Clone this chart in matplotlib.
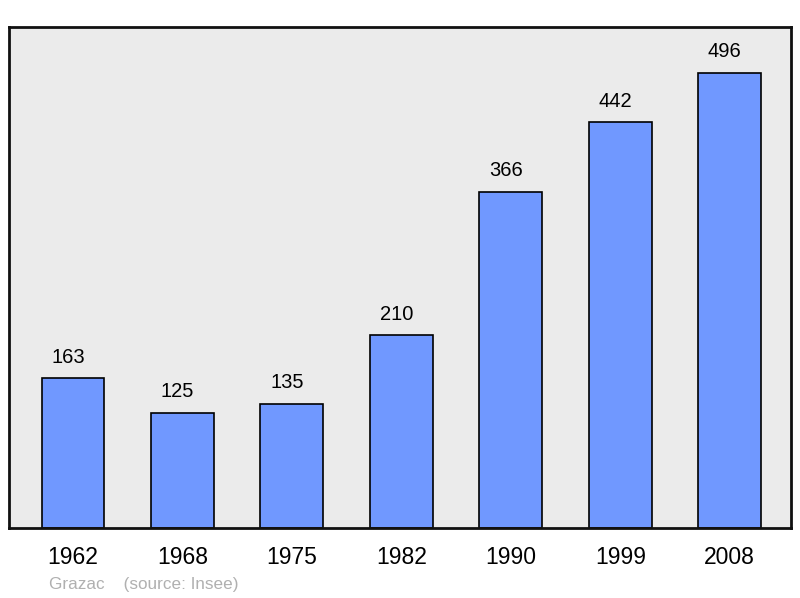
import matplotlib
matplotlib.use("Agg")
import matplotlib.pyplot as plt
import numpy as np

years = ["1962", "1968", "1975", "1982", "1990", "1999", "2008"]
population = [163, 125, 135, 210, 366, 442, 496]
commune = "Grazac"
source = "(source: Insee)"

plt.rcParams['font.family'] = ['Liberation Sans', 'DejaVu Sans']

fig = plt.figure(figsize=(8.0, 5.98), dpi=100)
ax = fig.add_axes([9 / 800, 1 - 528 / 598, 782 / 800, 501 / 598])
ax.set_facecolor('#ebebeb')

x = np.arange(len(years))
ax.bar(x, population, width=0.575, color='#7098ff', edgecolor='black',
       linewidth=1.2, zorder=2)

for xi, val in zip(x, population):
    ax.annotate(str(val), (xi, val), xytext=(-3.5, 8.5), textcoords='offset points',
                ha='center', va='bottom', fontsize=14.5, color='black')

ax.set_xlim(-0.585, 6.56)
ax.set_ylim(0, 546)
ax.set_xticks(x)
ax.set_xticklabels(years, fontsize=16.5)
ax.tick_params(axis='x', length=0, pad=13)
ax.set_yticks([])
for s in ax.spines.values():
    s.set_linewidth(2)
    s.set_color('#111111')

fig.text(49 / 800, 1 - 584 / 598, commune + "    " + source, fontsize=12.3,
         color='#b0b0b0', ha='left', va='center')

fig.savefig("out.png", dpi=100)
